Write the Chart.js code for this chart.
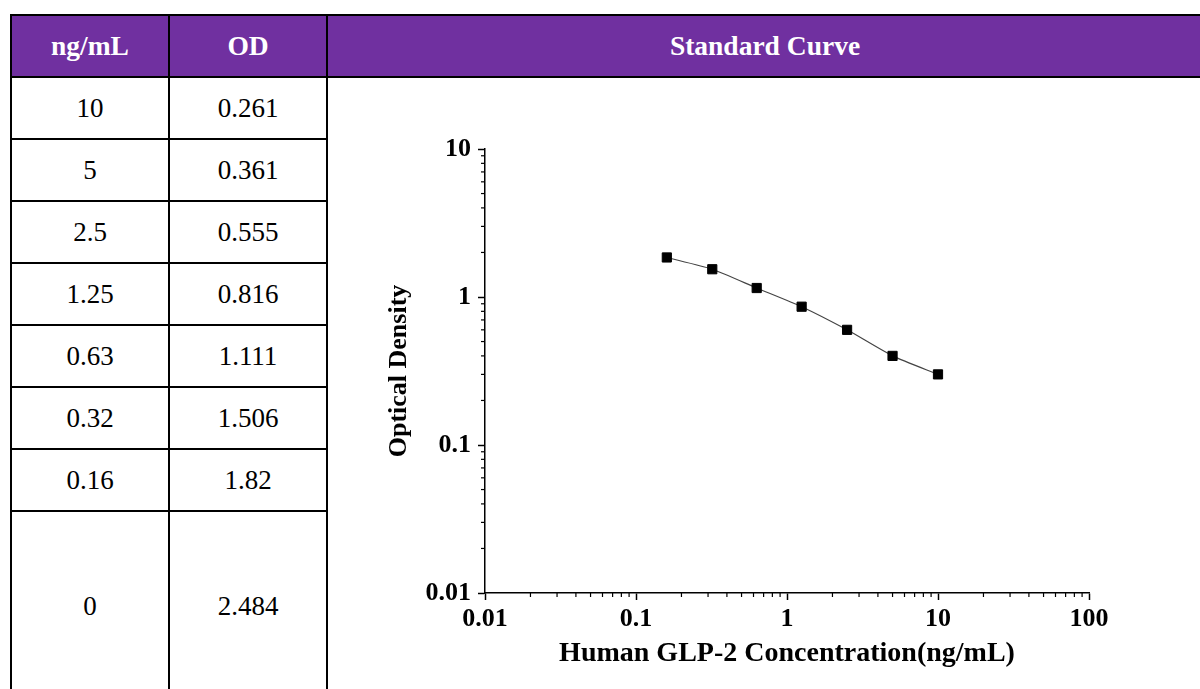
<!DOCTYPE html>
<html>
<head>
<meta charset="utf-8">
<script src="https://cdn.jsdelivr.net/npm/chart.js@4.4.1/dist/chart.umd.min.js"></script>
<style>
  html, body { margin: 0; padding: 0; background: #fff; width: 1200px; height: 689px; overflow: hidden; }
  body { position: relative; }
  table {
    position: absolute; left: 10px; top: 14px;
    border-collapse: collapse; table-layout: fixed; width: 1194px;
  }
  td, th {
    border: 2px solid #000; text-align: center; padding: 0; color: #000;
    font-family: "Liberation Serif", "Times New Roman", serif; font-size: 27px;
  }
  th { background: #7030A0; color: #fff; font-weight: bold; height: 60px; font-size: 27.5px; }
  td { height: 60px; font-weight: normal; }
  td.last { height: 188px; }
  #plot { position: absolute; left: 330px; top: 79px; width: 868px; height: 610px; }
</style>
</head>
<body>
<table id="tbl">
  <colgroup><col style="width:158px"><col style="width:158px"><col></colgroup>
  <thead><tr><th>ng/mL</th><th>OD</th><th>Standard Curve</th></tr></thead>
  <tbody id="rows"></tbody>
</table>
<div id="plot"><canvas id="standard-curve"></canvas></div>
<script>
// table values
var concLabels = ["10", "5", "2.5", "1.25", "0.63", "0.32", "0.16", "0"];
var odLabels = ["0.261", "0.361", "0.555", "0.816", "1.111", "1.506", "1.82", "2.484"];

// plotted curve
var concValues = [0.16, 0.32, 0.63, 1.25, 2.5, 5, 10];
var odValues = [1.85, 1.54, 1.15, 0.86, 0.60, 0.40, 0.30];

var xTicks = [0.01, 0.1, 1, 10, 100];
var yTicks = [0.01, 0.1, 1, 10];

var rows = document.getElementById("rows");
concLabels.forEach(function(c, i) {
  var tr = document.createElement("tr");
  var last = i === concLabels.length - 1;
  tr.innerHTML = '<td' + (last ? ' class="last"' : '') + '>' + c + '</td><td' + (last ? ' class="last"' : '') + '>' + odLabels[i] + '</td>';
  if (i === 0) {
    var cell = document.createElement("td");
    cell.rowSpan = concLabels.length;
    tr.appendChild(cell);
  }
  rows.appendChild(tr);
});

var serif = "'Liberation Serif', 'Times New Roman', serif";

// short minor ticks outside both axes
var minorTicks = {
  id: "minorTicks",
  afterDraw: function(chart) {
    var c = chart.ctx;
    c.save();
    c.strokeStyle = "#000";
    c.lineWidth = 1.2;
    ["x", "y"].forEach(function(id) {
      var s = chart.scales[id];
      var ticks = id === "x" ? xTicks : yTicks;
      for (var d = 0; d < ticks.length - 1; d++) {
        for (var k = 2; k < 10; k++) {
          var p = s.getPixelForValue(ticks[d] * k);
          c.beginPath();
          if (id === "x") {
            c.moveTo(p, chart.chartArea.bottom);
            c.lineTo(p, chart.chartArea.bottom + 4);
          } else {
            c.moveTo(chart.chartArea.left, p);
            c.lineTo(chart.chartArea.left - 4, p);
          }
          c.stroke();
        }
      }
    });
    c.restore();
  }
};

var ctx = document.getElementById("standard-curve");

var chart = new Chart(ctx, {
  type: "line",
  data: {
    datasets: [{
      data: concValues.map(function(x, i) { return { x: x, y: odValues[i] }; }),
      borderColor: "#444",
      borderWidth: 1.2,
      tension: 0.2,
      pointStyle: "rect",
      pointRadius: 6.5,
      pointBorderWidth: 1,
      pointBackgroundColor: "#000",
      pointBorderColor: "#000",
      fill: false
    }]
  },
  options: {
    responsive: true,
    maintainAspectRatio: false,
    animation: false,
    layout: { padding: { left: 0, top: 70, right: 109, bottom: 0 } },
    plugins: { legend: { display: false }, tooltip: { enabled: false } },
    scales: {
      x: {
        type: "logarithmic",
        min: 0.01,
        max: 100,
        afterBuildTicks: function(s) { s.ticks = xTicks.map(function(v) { return { value: v, major: true }; }); },
        afterFit: function(s) { s.height = 96; },
        grid: { drawOnChartArea: false, tickLength: 7, tickColor: "#000", tickWidth: 1.5 },
        border: { color: "#000", width: 1.5 },
        ticks: {
          autoSkip: false, maxRotation: 0, padding: 4, color: "#000",
          font: { family: serif, size: 26, weight: "bold", lineHeight: 1.2 },
          callback: function(v) { return String(v); }
        },
        title: {
          display: true, text: "Human GLP-2 Concentration(ng/mL)", color: "#000",
          font: { family: serif, size: 28, weight: "bold", lineHeight: 1.2 },
          padding: { top: 0, bottom: 18 }
        }
      },
      y: {
        type: "logarithmic",
        min: 0.01,
        max: 10,
        afterBuildTicks: function(s) { s.ticks = yTicks.map(function(v) { return { value: v, major: true }; }); },
        afterFit: function(s) { s.width = 155; },
        grid: { drawOnChartArea: false, tickLength: 7, tickColor: "#000", tickWidth: 1.5 },
        border: { color: "#000", width: 1.5 },
        ticks: {
          autoSkip: false, padding: 7, color: "#000",
          font: { family: serif, size: 26, weight: "bold", lineHeight: 1.2 },
          callback: function(v) { return String(v); }
        },
        title: {
          display: true, text: "Optical Density", color: "#000",
          font: { family: serif, size: 26, weight: "bold", lineHeight: 1.2 },
          padding: { top: 54, bottom: 0 }
        }
      }
    }
  },
  plugins: [minorTicks]
});
</script>
</body>
</html>
